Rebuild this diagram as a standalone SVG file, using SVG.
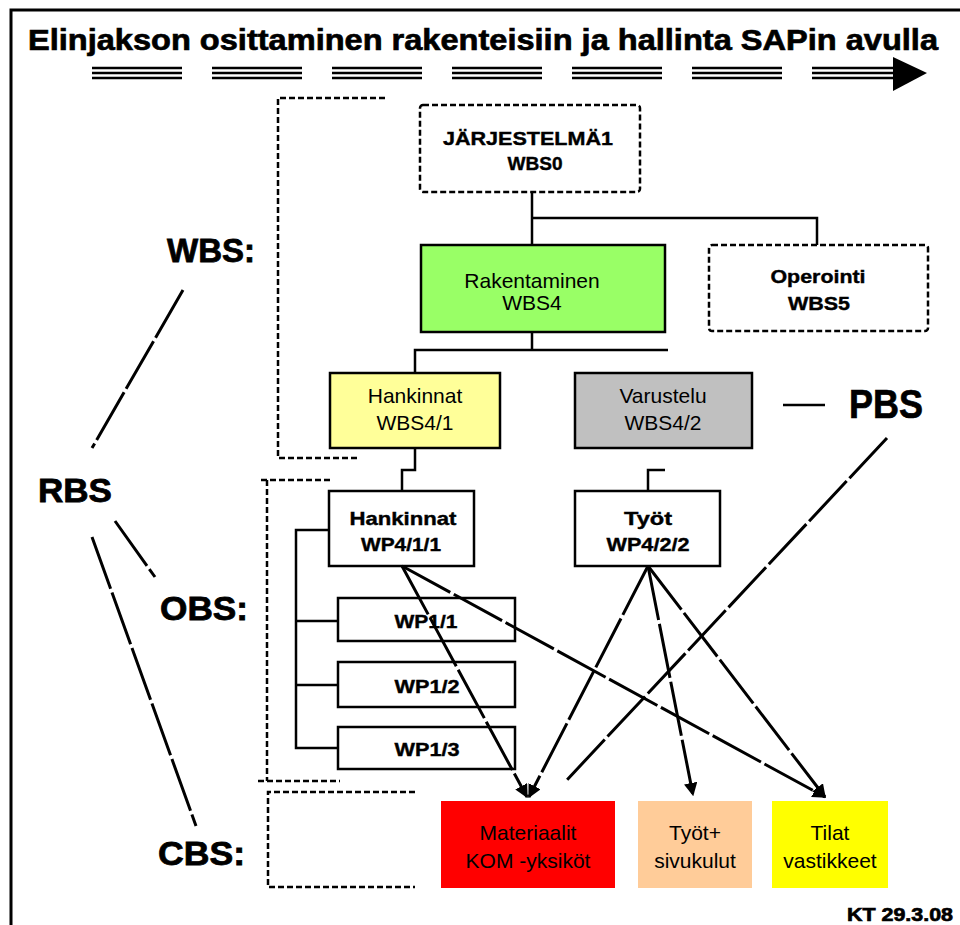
<svg xmlns="http://www.w3.org/2000/svg" width="960" height="925" viewBox="0 0 960 925">
  <defs>
    <marker id="arrow" viewBox="0 0 10 10" refX="9" refY="5" markerWidth="4.5" markerHeight="4.5" orient="auto" markerUnits="strokeWidth">
      <path d="M0,0 L10,5 L0,10 z" fill="#000"/>
    </marker>
    <style>
      text { font-family: "Liberation Sans", Arial, sans-serif; fill: #000; }
      .b { font-weight: bold; }
      .heavy { stroke: #000; stroke-width: 0.7; }
      .title { font-size: 30px; font-weight: bold; }
      .lbl { font-size: 34px; font-weight: bold; stroke: #000; stroke-width: 0.8; }
      .bt { font-size: 19px; font-weight: bold; text-anchor: middle; stroke: #000; stroke-width: 0.4; }
      .nt { font-size: 21px; text-anchor: middle; }
      .box { stroke: #000; stroke-width: 2.5; }
      .dbox { fill: #fff; stroke: #000; stroke-width: 2.5; stroke-dasharray: 6 3; }
      .dash { fill: none; stroke: #000; stroke-width: 2.5; stroke-dasharray: 6 3; }
      .conn { fill: none; stroke: #000; stroke-width: 2.5; }
      .flow { fill: none; stroke: #000; stroke-width: 3; stroke-dasharray: 55 4; }
      .bar { stroke: #000; stroke-width: 2.5; }
    </style>
  </defs>

  <rect width="960" height="925" fill="#fff"/>

  <!-- frame -->
  <path d="M11,925 V10 H960" fill="none" stroke="#000" stroke-width="3"/>

  <!-- heading -->
  <text class="title heavy" x="28" y="50" textLength="910" lengthAdjust="spacingAndGlyphs">Elinjakson osittaminen rakenteisiin ja hallinta SAPin avulla</text>

  <!-- life-cycle arrow made of triple bars -->
  <g id="lifecycle-arrow">
    <g class="bar">
      <path d="M92,68 H182 M92,73 H182 M92,78 H182"/>
      <path d="M212,68 H302 M212,73 H302 M212,78 H302"/>
      <path d="M332,68 H422 M332,73 H422 M332,78 H422"/>
      <path d="M452,68 H542 M452,73 H542 M452,78 H542"/>
      <path d="M572,68 H662 M572,73 H662 M572,78 H662"/>
      <path d="M692,68 H782 M692,73 H782 M692,78 H782"/>
      <path d="M812,68 H895 M812,73 H895 M812,78 H895"/>
    </g>
    <polygon points="893,57 927,73 893,91" fill="#000"/>
  </g>

  <!-- level brackets -->
  <g id="brackets">
    <path class="dash" d="M385,98 H278 V458 H360"/>
    <path class="dash" d="M330,480 H260 M267,480 V781 M258,781 H340"/>
    <path class="dash" d="M415,792 H268 V887 H415"/>
  </g>

  <!-- side labels -->
  <g id="label-wbs"><text class="lbl" x="167" y="262" textLength="88" lengthAdjust="spacingAndGlyphs">WBS:</text></g>
  <g id="label-rbs"><text class="lbl" x="38" y="502" textLength="74" lengthAdjust="spacingAndGlyphs">RBS</text></g>
  <g id="label-obs"><text class="lbl" x="160" y="620" textLength="88" lengthAdjust="spacingAndGlyphs">OBS:</text></g>
  <g id="label-cbs"><text class="lbl" x="158" y="865" textLength="87" lengthAdjust="spacingAndGlyphs">CBS:</text></g>
  <g id="label-pbs">
    <path d="M783,405 H825" class="conn"/>
    <text class="b heavy" x="849" y="418" font-size="40" textLength="74" lengthAdjust="spacingAndGlyphs">PBS</text>
  </g>

  <!-- nodes -->
  <g id="wbs0">
    <rect class="dbox" x="420" y="105" width="220" height="87" rx="3"/>
    <text class="bt" x="528" y="145" textLength="170" lengthAdjust="spacingAndGlyphs">JÄRJESTELMÄ1</text>
    <text class="bt" x="535" y="170" textLength="55" lengthAdjust="spacingAndGlyphs">WBS0</text>
  </g>
  <g id="wbs4">
    <rect class="box" x="421" y="245" width="244" height="87" fill="#99FF66"/>
    <text class="nt" x="532" y="288" font-size="22">Rakentaminen</text>
    <text class="nt" x="532" y="310" font-size="22">WBS4</text>
  </g>
  <g id="wbs5">
    <rect class="dbox" x="709" y="245" width="219" height="86" rx="3"/>
    <text class="bt" x="818" y="283" textLength="95" lengthAdjust="spacingAndGlyphs">Operointi</text>
    <text class="bt" x="819" y="310" textLength="62" lengthAdjust="spacingAndGlyphs">WBS5</text>
  </g>
  <g id="wbs4-1">
    <rect class="box" x="330" y="373" width="170" height="75" fill="#FFFF99"/>
    <text class="nt" x="415" y="403">Hankinnat</text>
    <text class="nt" x="415" y="430">WBS4/1</text>
  </g>
  <g id="wbs4-2">
    <rect class="box" x="575" y="373" width="177" height="75" fill="#C0C0C0"/>
    <text class="nt" x="663" y="403">Varustelu</text>
    <text class="nt" x="663" y="430">WBS4/2</text>
  </g>
  <g id="wp4-1-1">
    <rect class="box" x="329" y="491" width="145" height="75" fill="#fff"/>
    <text class="bt" x="403" y="525" textLength="107" lengthAdjust="spacingAndGlyphs">Hankinnat</text>
    <text class="bt" x="401" y="551" textLength="80" lengthAdjust="spacingAndGlyphs">WP4/1/1</text>
  </g>
  <g id="wp4-2-2">
    <rect class="box" x="575" y="491" width="145" height="75" fill="#fff"/>
    <text class="bt" x="648" y="525" textLength="48" lengthAdjust="spacingAndGlyphs">Työt</text>
    <text class="bt" x="648" y="551" textLength="83" lengthAdjust="spacingAndGlyphs">WP4/2/2</text>
  </g>
  <g id="wp1-1">
    <rect class="box" x="338" y="598" width="177" height="43" fill="#fff"/>
    <text class="bt" x="426" y="628" textLength="63" lengthAdjust="spacingAndGlyphs">WP1/1</text>
  </g>
  <g id="wp1-2">
    <rect class="box" x="338" y="662" width="177" height="45" fill="#fff"/>
    <text class="bt" x="427" y="693" textLength="65" lengthAdjust="spacingAndGlyphs">WP1/2</text>
  </g>
  <g id="wp1-3">
    <rect class="box" x="338" y="727" width="177" height="42" fill="#fff"/>
    <text class="bt" x="427" y="756" textLength="65" lengthAdjust="spacingAndGlyphs">WP1/3</text>
  </g>
  <g id="cbs-materials">
    <rect x="441" y="801" width="174" height="87" fill="#FF0000"/>
    <text class="nt" x="528" y="840" font-size="22">Materiaalit</text>
    <text class="nt" x="528" y="868" font-size="22">KOM -yksiköt</text>
  </g>
  <g id="cbs-work">
    <rect x="638" y="801" width="114" height="87" fill="#FFCC99"/>
    <text class="nt" x="695" y="840" font-size="22">Työt+</text>
    <text class="nt" x="695" y="868" font-size="22">sivukulut</text>
  </g>
  <g id="cbs-premises">
    <rect x="772" y="801" width="116" height="87" fill="#FFFF00"/>
    <text class="nt" x="830" y="840" font-size="22">Tilat</text>
    <text class="nt" x="830" y="868" font-size="22">vastikkeet</text>
  </g>

  <!-- connectors -->
  <g id="connectors">
    <path class="conn" d="M532,192 V245 M532,218 H817 V245"/>
    <path class="conn" d="M532,332 V350 M415,373 V350 H668"/>
    <path class="conn" d="M415,448 V470 H402 V491"/>
    <path class="conn" d="M665,470 H648 V491"/>
    <path class="conn" d="M329,530 H296 V748 H338 M296,621 H338 M296,685 H338"/>

    <path class="flow" d="M402,566 L527,797" marker-end="url(#arrow)"/>
    <path class="flow" d="M402,566 L825,797" marker-end="url(#arrow)"/>
    <path class="flow" d="M648,566 L529,797" marker-end="url(#arrow)"/>
    <path class="flow" d="M648,566 L693,795" marker-end="url(#arrow)"/>
    <path class="flow" d="M648,566 L825,797" marker-end="url(#arrow)"/>
    <path class="flow" d="M887,438 L565,782"/>

    <path class="flow" d="M183,290 L92,448"/>
    <path class="flow" d="M115,521 L155,577"/>
    <path class="flow" d="M92,537 L196,826"/>
  </g>

  <!-- footer -->
  <text class="b heavy" x="847" y="921" font-size="19" textLength="106" lengthAdjust="spacingAndGlyphs" stroke-width="0.4">KT 29.3.08</text>
</svg>
